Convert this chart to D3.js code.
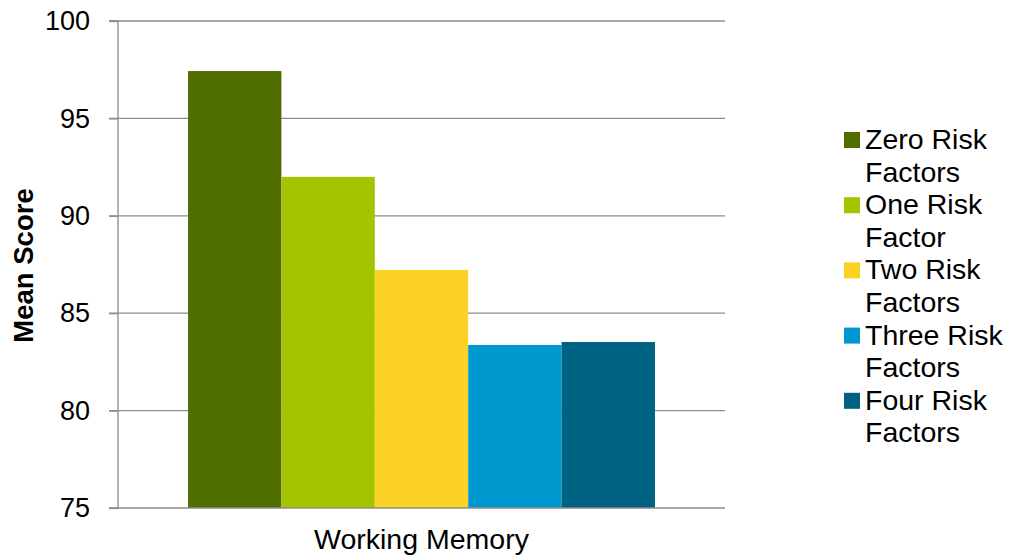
<!DOCTYPE html>
<html>
<head>
<meta charset="utf-8">
<script src="https://cdn.jsdelivr.net/npm/d3@7"></script>
<style>
  body { margin: 0; background: #fff; }
  svg text { font-family: "Liberation Sans", Arial, sans-serif; fill: #000; }
</style>
</head>
<body>
<div id="chart"></div>
<script>
// 数据
const category = 'Working Memory';
const seriesNames = ['Zero Risk Factors', 'One Risk Factor', 'Two Risk Factors', 'Three Risk Factors', 'Four Risk Factors'];
const legendLines = [['Zero Risk', 'Factors'], ['One Risk', 'Factor'], ['Two Risk', 'Factors'], ['Three Risk', 'Factors'], ['Four Risk', 'Factors']];
const values = [97.43, 92.0, 87.22, 83.37, 83.52];
const colors = ['#506e00', '#a4c400', '#fdd226', '#0099cf', '#006283'];
const yTicks = [75, 80, 85, 90, 95, 100];

const width = 1011;
const height = 557;
const plot = { left: 118, right: 725, top: 21, bottom: 508 };

const svg = d3.select('#chart').append('svg').attr('width', width).attr('height', height);

const y = d3.scaleLinear().domain([75, 100]).range([plot.bottom, plot.top]);
const x0 = d3.scaleBand().domain([category]).range([plot.left, plot.right]).paddingInner(0).paddingOuter(0.15);
const x1 = d3.scaleBand().domain(seriesNames).range([0, x0.bandwidth()]).padding(0);

// 网格线
svg.append('g')
  .selectAll('line').data(yTicks.filter(d => d > 75))
  .enter().append('line')
  .attr('x1', plot.left - 9).attr('x2', plot.right)
  .attr('y1', d => y(d)).attr('y2', d => y(d))
  .attr('stroke', '#8c8c8c').attr('stroke-width', 1.3);

// 柱子
svg.append('g')
  .selectAll('rect').data(values)
  .enter().append('rect')
  .attr('x', (d, i) => x0(category) + x1(seriesNames[i]))
  .attr('width', x1.bandwidth())
  .attr('y', d => y(d))
  .attr('height', d => y(75) - y(d))
  .attr('fill', (d, i) => colors[i]);

// y 轴
const yAxis = svg.append('g')
  .attr('transform', `translate(${plot.left},0)`)
  .call(d3.axisLeft(y).tickValues(yTicks).tickSize(9).tickPadding(19));
yAxis.select('.domain').attr('stroke', '#8c8c8c').attr('stroke-width', 1.3).attr('d', `M-9,${plot.top}H0V${plot.bottom}H-9`);
yAxis.selectAll('.tick line').attr('stroke', '#8c8c8c').attr('stroke-width', 1.3);
yAxis.selectAll('.tick text').attr('font-size', 27).attr('fill', '#000')
  .attr('font-family', '"Liberation Sans", Arial, sans-serif');

// x 轴
svg.append('line')
  .attr('x1', plot.left).attr('x2', plot.right)
  .attr('y1', plot.bottom).attr('y2', plot.bottom)
  .attr('stroke', '#8c8c8c').attr('stroke-width', 1.3);

svg.append('text')
  .attr('x', x0(category) + x0.bandwidth() / 2)
  .attr('y', 549)
  .attr('text-anchor', 'middle')
  .attr('font-size', 28.5)
  .text(category);

svg.append('text')
  .attr('transform', `translate(33,${(plot.top + plot.bottom) / 2 + 1}) rotate(-90)`)
  .attr('text-anchor', 'middle')
  .attr('font-size', 27.5)
  .attr('font-weight', 'bold')
  .text('Mean Score');

// 图例
const legend = svg.append('g').attr('transform', 'translate(844,0)');
const lineH = 32.6;
legendLines.forEach((lines, i) => {
  const top = 140 + i * 2 * lineH;
  legend.append('rect')
    .attr('x', 0).attr('y', top - 8).attr('width', 16).attr('height', 16)
    .attr('fill', colors[i]);
  lines.forEach((t, j) => {
    legend.append('text')
      .attr('x', 21)
      .attr('y', top + j * lineH + 9)
      .attr('font-size', 28.5)
      .text(t);
  });
});
</script>
</body>
</html>
